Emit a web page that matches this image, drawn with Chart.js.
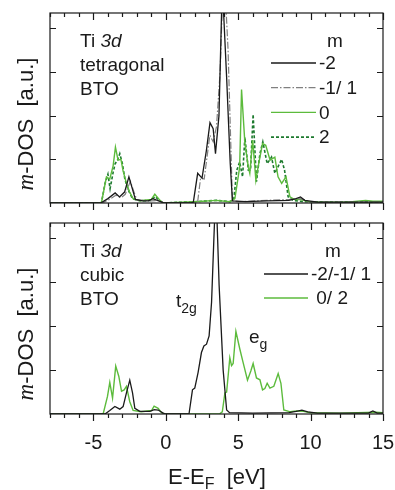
<!DOCTYPE html>
<html>
<head>
<meta charset="utf-8">
<script src="https://cdn.jsdelivr.net/npm/chart.js@4.4.1/dist/chart.umd.min.js"></script>
<style>
  html, body { margin: 0; padding: 0; background: #fff; }
  #wrap { position: relative; width: 395px; height: 490px; }
  #top { position: absolute; left: 0; top: 0; }
  #bot { position: absolute; left: 0; top: 215px; }
</style>
</head>
<body>
<div id="wrap">
  <canvas id="top" width="395" height="215"></canvas>
  <canvas id="bot" width="395" height="275"></canvas>
</div>
<script>
// energy axis and dos axis
const xMin = -8, xMax = 15;
const yMax = 4.35;
const xTickLabels = [-5, 0, 5, 10, 15];

// tetragonal BTO, Ti 3d
const tetM2E = [-8, -4.5, -4.0, -3.5, -3.2, -2.85, -2.55, -2.35, -2.1, -1.6, -1.2, -0.9, -0.5, -0.1, 1.7, 1.9, 2.2, 2.5, 2.8, 3.05, 3.27, 3.43, 3.67, 3.9, 4.2, 4.45, 4.6, 5.5, 7, 8.5, 9.0, 9.3, 9.6, 10.5, 12, 14, 15];
const tetM2 = [0, 0, 0.1, 0.23, 0.14, 0.25, 0.6, 0.37, 0.08, 0.05, 0.05, 0.1, 0.05, 0, 0, 0.02, 0.68, 0.57, 1.2, 1.84, 1.7, 1.13, 2.0, 5.0, 2.87, 0.9, 0.05, 0.03, 0.05, 0.06, 0.1, 0.14, 0.06, 0.02, 0.02, 0.02, 0.02];

const tetM1E = [-8, -4.4, -3.9, -3.45, -3.1, -2.8, -2.45, -2.25, -2.0, -1.0, -0.5, -0.1, 2.0, 2.2, 2.4, 2.65, 3.04, 3.27, 3.5, 3.75, 4.0, 4.3, 4.6, 5, 7, 8.5, 9.3, 10, 15];
const tetM1 = [0, 0, 0.08, 0.18, 0.12, 0.2, 0.5, 0.3, 0.07, 0.05, 0.06, 0, 0, 0.03, 0.57, 0.55, 1.55, 1.4, 1.75, 3.0, 5.5, 3.5, 0.05, 0.03, 0.06, 0.08, 0.1, 0.02, 0.02];

const tetM0E = [-8, -4.45, -4.1, -3.87, -3.64, -3.48, -3.3, -3.1, -2.96, -2.72, -2.5, -2.26, -1.8, -1.0, -0.76, -0.4, -0.2, 2.0, 3.5, 4.4, 4.77, 5.1, 5.23, 5.46, 5.7, 5.8, 6.0, 6.22, 6.37, 6.68, 6.9, 7.2, 7.53, 7.75, 8.0, 8.3, 8.57, 8.9, 9.3, 10, 12.5, 13.8, 14.3, 15];
const tetM0 = [0, 0, 0.6, 0.55, 0.85, 1.28, 0.98, 1.0, 0.75, 0.45, 0.25, 0.1, 0.05, 0.08, 0.2, 0.06, 0, 0.03, 0.06, 0.03, 0.1, 0.82, 2.6, 1.37, 0.82, 0.68, 1.44, 0.52, 0.82, 1.36, 1.32, 0.98, 1.05, 0.6, 0.45, 0.6, 0.14, 0.08, 0.08, 0.02, 0.02, 0.06, 0.04, 0.04];

const tetP2E = [-8, -4.45, -4.2, -4.0, -3.85, -3.64, -3.5, -3.34, -3.18, -3.0, -2.83, -2.6, -2.3, -1.8, -1.0, -0.76, -0.4, -0.2, 2, 3.5, 4.45, 4.7, 4.9, 5.1, 5.3, 5.46, 5.7, 5.85, 6.03, 6.26, 6.5, 6.7, 7.0, 7.3, 7.53, 8.0, 8.2, 8.45, 8.8, 9.5, 12, 15];
const tetP2 = [0, 0, 0.45, 0.66, 0.33, 0.7, 0.9, 0.98, 1.13, 0.9, 0.55, 0.3, 0.1, 0.05, 0.06, 0.15, 0.05, 0, 0.03, 0.06, 0.03, 0.1, 0.75, 0.94, 0.6, 1.5, 0.75, 0.75, 2.03, 0.49, 1.13, 1.4, 0.9, 1.05, 0.68, 1.0, 0.75, 0.14, 0.06, 0.03, 0.02, 0.02];

// cubic BTO, Ti 3d
const cubT2gE = [-8, -4.2, -3.87, -3.52, -3.18, -2.95, -2.72, -2.49, -2.3, -2.14, -1.8, -1.1, -0.8, -0.53, -0.18, 0, 1.6, 1.84, 2.0, 2.23, 2.46, 2.63, 2.81, 2.99, 3.16, 3.32, 3.46, 3.68, 3.96, 4.2, 4.4, 6, 8.5, 9.0, 9.4, 9.8, 10.5, 12, 14.0, 14.3, 14.6, 15];
const cubT2g = [0, 0, 0.08, 0.17, 0.11, 0.17, 0.48, 0.77, 0.48, 0.13, 0.06, 0.06, 0.1, 0.09, 0.02, 0, 0, 0.55, 0.59, 0.95, 1.4, 1.55, 1.59, 1.78, 2.55, 4.0, 5.2, 2.94, 1.0, 0.09, 0.03, 0.02, 0.03, 0.06, 0.09, 0.05, 0.02, 0.02, 0.02, 0.07, 0.02, 0.02];

const cubEgE = [-8, -4.33, -4.03, -3.87, -3.68, -3.46, -3.25, -3.06, -2.88, -2.72, -2.49, -2.26, -1.7, -0.99, -0.81, -0.53, -0.3, -0.1, 3.7, 3.9, 4.08, 4.2, 4.42, 4.54, 4.65, 4.84, 5.11, 5.34, 5.64, 5.87, 6.03, 6.26, 6.5, 6.68, 6.84, 7.0, 7.19, 7.46, 7.76, 7.95, 8.15, 8.6, 9.0, 9.5, 10, 12, 14.5, 15];
const cubEg = [0, 0, 0.4, 0.72, 0.36, 1.09, 0.86, 0.52, 0.55, 0.63, 0.28, 0.08, 0.05, 0.08, 0.18, 0.13, 0.03, 0, 0, 0.05, 0.48, 0.5, 1.28, 1.1, 1.15, 1.88, 1.48, 1.17, 0.77, 0.98, 1.15, 0.82, 0.78, 0.55, 0.58, 0.7, 0.59, 0.63, 0.92, 0.7, 0.09, 0.05, 0.07, 0.06, 0.03, 0.02, 0.04, 0.03];

const SANS = '"Liberation Sans", Arial, sans-serif';
const SERIF = '"Liberation Serif", "Times New Roman", serif';
const INK = '#1a1a1a';
const GREEN = '#5cbb3c';
const DKGREEN = '#1d7a2e';

function pts(es, vs) {
  return es.map((e, i) => ({x: e, y: vs[i]}));
}

function line(label, es, vs, color, width, dash) {
  return {
    label: label,
    data: pts(es, vs),
    borderColor: color,
    borderWidth: width,
    borderDash: dash || [],
    pointRadius: 0,
    tension: 0,
    fill: false
  };
}

// draw a row of text runs with different fonts
function runs(ctx, parts, x, y) {
  let cx = x;
  parts.forEach(p => {
    ctx.font = p.f;
    ctx.fillText(p.t, cx, y + (p.dy || 0));
    cx += ctx.measureText(p.t).width;
  });
}

function runsWidth(ctx, parts) {
  let w = 0;
  parts.forEach(p => { ctx.font = p.f; w += ctx.measureText(p.t).width; });
  return w;
}

const framePlugin = {
  id: 'frame',
  afterDatasetsDraw(chart, args, o) {
    const ctx = chart.ctx;
    const a = chart.chartArea;
    const xs = chart.scales.x, ys = chart.scales.y;
    ctx.save();
    ctx.strokeStyle = INK;
    ctx.lineWidth = 1.2;
    ctx.strokeRect(a.left, a.top, a.right - a.left, a.bottom - a.top);
    ctx.beginPath();
    xs.ticks.forEach(t => {
      const px = Math.round(xs.getPixelForValue(t.value)) + 0.5;
      const len = t.value % 5 === 0 ? 7 : 4;
      ctx.moveTo(px, a.top); ctx.lineTo(px, a.top + len);
      ctx.moveTo(px, a.bottom); ctx.lineTo(px, a.bottom + len);
    });
    for (let v = 1; v <= 4; v++) {
      const py = Math.round(ys.getPixelForValue(v)) + 0.5;
      ctx.moveTo(a.left, py); ctx.lineTo(a.left + 6, py);
      ctx.moveTo(a.right, py); ctx.lineTo(a.right - 6, py);
    }
    ctx.stroke();

    ctx.fillStyle = INK;
    ctx.textBaseline = 'alphabetic';
    ctx.textAlign = 'left';

    // y title, rotated
    const yt = [
      {t: 'm', f: 'italic 23px ' + SERIF},
      {t: '-DOS  [a.u.]', f: '22px ' + SANS}
    ];
    ctx.save();
    ctx.translate(o.yTitleX, o.yTitleY);
    ctx.rotate(-Math.PI / 2);
    runs(ctx, yt, -runsWidth(ctx, yt) / 2, 0);
    ctx.restore();

    (o.notes || []).forEach(n => runs(ctx, n.parts, n.x, n.y));

    // legend from the datasets
    const lg = o.legend;
    ctx.font = '19px ' + SANS;
    ctx.fillText('m', lg.mx, lg.my);
    ctx.textBaseline = 'middle';
    chart.data.datasets.forEach((ds, i) => {
      const ry = lg.y0 + i * lg.dy;
      ctx.save();
      ctx.strokeStyle = ds.borderColor;
      ctx.lineWidth = ds.borderWidth;
      ctx.setLineDash(ds.borderDash);
      ctx.beginPath();
      ctx.moveTo(lg.x0, ry); ctx.lineTo(lg.x1, ry);
      ctx.stroke();
      ctx.restore();
      ctx.fillText(ds.label, lg.x1 + 3, ry + 1);
    });
    ctx.restore();
  }
};

function panel(id, datasets, showLabels, xHeight, padTop, plug) {
  return new Chart(document.getElementById(id), {
    type: 'line',
    data: {datasets: datasets},
    options: {
      responsive: false,
      animation: false,
      layout: {padding: {left: 50, right: 12, top: padTop, bottom: 0}},
      plugins: {legend: {display: false}, tooltip: {enabled: false}, frame: plug},
      scales: {
        x: {
          type: 'linear', min: xMin, max: xMax,
          grid: {display: false, drawTicks: false},
          border: {display: false},
          afterFit: s => { s.height = xHeight; s.paddingLeft = 0; s.paddingRight = 0; },
          ticks: {
            display: showLabels, stepSize: 1, autoSkip: false, maxRotation: 0,
            padding: 17, color: INK,
            font: {family: SANS, size: 20},
            callback: v => xTickLabels.includes(v) ? String(v) : ''
          }
        },
        y: {
          min: 0, max: yMax,
          grid: {display: false},
          border: {display: false},
          ticks: {display: false},
          afterFit: s => { s.width = 0; }
        }
      }
    },
    plugins: [framePlugin]
  });
}

panel('top', [
  line('-2', tetM2E, tetM2, INK, 1.3),
  line('-1/ 1', tetM1E, tetM1, '#808080', 1.2, [7, 2, 1.5, 2]),
  line('0', tetM0E, tetM0, GREEN, 1.4),
  line('2', tetP2E, tetP2, DKGREEN, 1.6, [3, 2])
], false, 12, 13, {
  yTitleX: 33, yTitleY: 124,
  notes: [
    {x: 80, y: 47, parts: [{t: 'Ti ', f: '19px ' + SANS}, {t: '3d', f: 'italic 19px ' + SANS}]},
    {x: 80, y: 71, parts: [{t: 'tetragonal', f: '19px ' + SANS}]},
    {x: 80, y: 95, parts: [{t: 'BTO', f: '19px ' + SANS}]}
  ],
  legend: {mx: 327, my: 47, x0: 271, x1: 316, y0: 63, dy: 24.7}
});

panel('bot', [
  line('-2/-1/ 1', cubT2gE, cubT2g, INK, 1.3),
  line(' 0/ 2', cubEgE, cubEg, GREEN, 1.4)
], true, 76, 8, {
  yTitleX: 33, yTitleY: 334 - 215,
  notes: [
    {x: 80, y: 42, parts: [{t: 'Ti ', f: '19px ' + SANS}, {t: '3d', f: 'italic 19px ' + SANS}]},
    {x: 80, y: 66, parts: [{t: 'cubic', f: '19px ' + SANS}]},
    {x: 80, y: 90, parts: [{t: 'BTO', f: '19px ' + SANS}]},
    {x: 176, y: 92, parts: [{t: 't', f: '19px ' + SANS}, {t: '2g', f: '14px ' + SANS, dy: 6}]},
    {x: 249, y: 128, parts: [{t: 'e', f: '19px ' + SANS}, {t: 'g', f: '14px ' + SANS, dy: 6}]},
    {x: 168, y: 269, parts: [{t: 'E-E', f: '22px ' + SANS}, {t: 'F', f: '16px ' + SANS, dy: 5}, {t: '  [eV]', f: '22px ' + SANS}]}
  ],
  legend: {mx: 325, my: 42, x0: 264, x1: 308, y0: 59, dy: 24}
});
</script>
</body>
</html>
